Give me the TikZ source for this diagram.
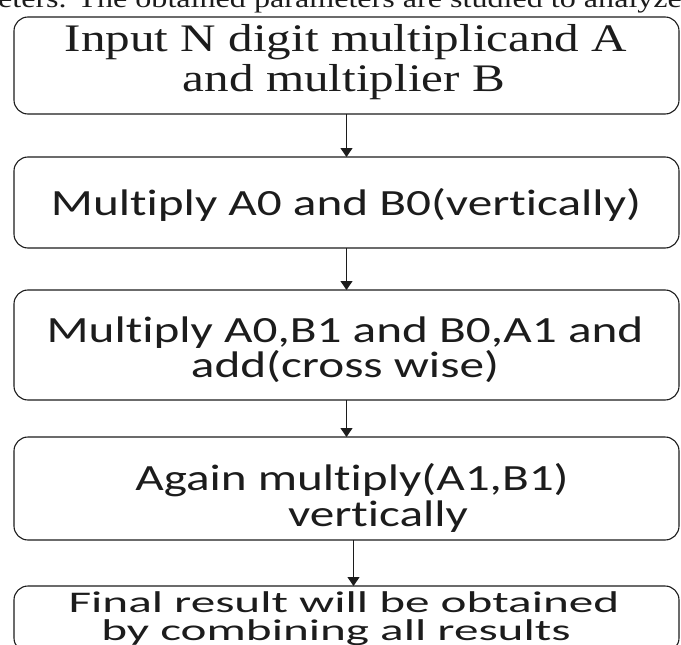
\documentclass[tikz,border=0pt]{standalone}
\usepackage{fontspec}
\setmainfont{Liberation Serif}
\newfontfamily\calibrifont[Ligatures=NoCommon]{Carlito}
\usetikzlibrary{arrows.meta}
\definecolor{ink}{HTML}{1C1C1C}
\begin{document}
\begin{tikzpicture}[x=1pt,y=-1pt,
  box/.style={draw=ink, line width=1.1pt, rounded corners=14pt, minimum width=665pt,
              anchor=north west, inner sep=0pt, outer sep=0pt},
  flow/.style={draw=ink, line width=1.1pt, -{Triangle[length=9pt,width=12pt]}},
  txt/.style={anchor=base, inner sep=0pt, text=ink},
  serif/.style={txt, font=\fontsize{39}{39}\selectfont},
  sans/.style={txt, font=\calibrifont\fontsize{37}{37}\selectfont},
  smallsans/.style={txt, font=\calibrifont\fontsize{30}{30}\selectfont},
]
\useasboundingbox (0,0) rectangle (681,645);
\node[txt, font=\fontsize{26}{26}\selectfont] (head) at (340,8)
  {\scalebox{1.235}[1]{eters. The obtained parameters are studied to analyze}};
% boxes
\node[box, minimum height=97pt] (b1) at (14,17) {};
\node[box, minimum height=91pt] (b2) at (14,157) {};
\node[box, minimum height=110pt] (b3) at (14,290) {};
\node[box, minimum height=103pt] (b4) at (14,437) {};
\node[box, minimum height=66pt] (b5) at (14,586) {};
% texts
\newcommand{\sx}[1]{\scalebox{1.33}[1]{#1}}
\newcommand{\ssx}[1]{\scalebox{1.64}[1]{#1}}
\newcommand{\rx}[1]{\scalebox{1.26}[1]{#1}}
\node[serif] (t1a) at (346,51) {\rx{Input N digit multiplicand A}};
\node[serif] (t1b) at (344,91) {\rx{and multiplier B}};
\node[sans] (t2) at (346,215) {\sx{Multiply A0 and B0(vertically)}};
\node[sans] (t3a) at (345,342) {\sx{Multiply A0,B1 and B0,A1 and}};
\node[sans] (t3b) at (345,377) {\sx{add(cross wise)}};
\node[sans] (t4a) at (352,490) {\sx{Again multiply(A1,B1)}};
\node[sans] (t4b) at (378,526) {\sx{vertically}};
\node[smallsans] (t5a) at (344,612) {\ssx{Final result will be obtained}};
\node[smallsans] (t5b) at (336,640) {\ssx{by combining all results}};
% connectors
\draw[flow] (b1.south) -- (b2.north);
\draw[flow] (b2.south) -- (b3.north);
\draw[flow] (b3.south) -- (b4.north);
\draw[flow] ([xshift=7pt]b4.south) -- ([xshift=7pt]b5.north);
\end{tikzpicture}
\end{document}
